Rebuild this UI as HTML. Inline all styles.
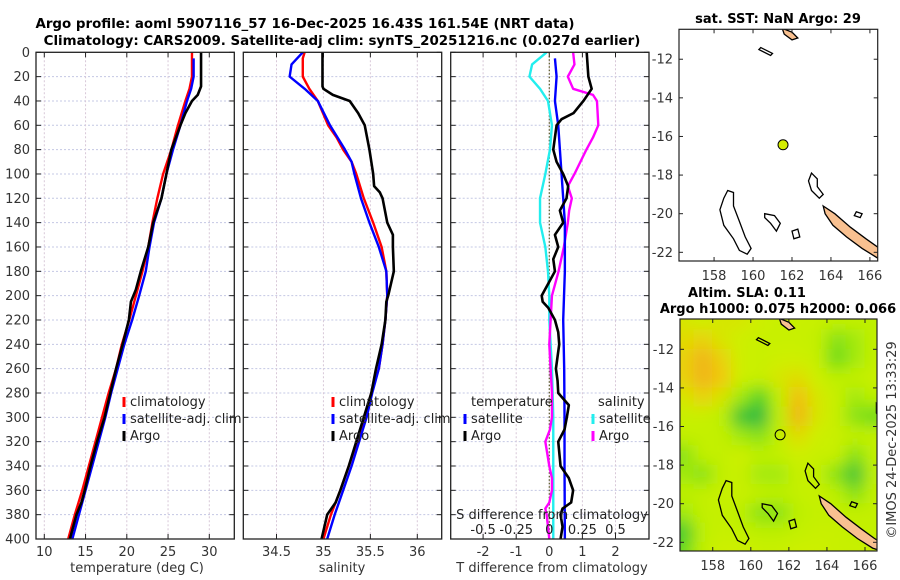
<!DOCTYPE html>
<html><head><meta charset="utf-8"><style>
html,body{margin:0;padding:0;background:#fff;}
svg{display:block;font-family:"DejaVu Sans","Liberation Sans",sans-serif;}
</style></head><body>
<svg id="fig" width="900" height="580" viewBox="0 0 900 580" xmlns="http://www.w3.org/2000/svg">
<defs>
<filter id="blur" x="-10%" y="-10%" width="120%" height="120%"><feGaussianBlur stdDeviation="8"/></filter>
<clipPath id="clipMap2"><rect x="680" y="319" width="197" height="232"/></clipPath>
<clipPath id="clipMap1"><rect x="679" y="29.3" width="198.7" height="231.7"/></clipPath>
<clipPath id="clipP1"><rect x="36" y="52.3" width="198.3" height="486.7"/></clipPath>
<clipPath id="clipP2"><rect x="243.3" y="52.3" width="198.4" height="486.7"/></clipPath>
<clipPath id="clipP3"><rect x="450.7" y="52.3" width="198.3" height="486.7"/></clipPath>
</defs>
<g font-weight="bold" font-size="13.4" text-anchor="middle">
<text x="305" y="28">Argo profile: aoml 5907116_57 16-Dec-2025 16.43S 161.54E (NRT data)</text>
<text x="342" y="45">Climatology: CARS2009. Satellite-adj clim: synTS_20251216.nc (0.027d earlier)</text>
</g>
</svg>
<script>
// ---------- data ----------
const depthTicks=[0,20,40,60,80,100,120,140,160,180,200,220,240,260,280,300,320,340,360,380,400];
const tempTicks=[10,15,20,25,30];
const salTicks=[34.5,35,35.5,36];
const tdiffTicks=[-2,-1,0,1,2];
const sdiffTickLabels=["-0.5","-0.25","0","0.25","0.5"];

const tArgoDepth=[0,28,35,40,50,60,80,100,120,140,160,180,195,205,220,240,260,280,300,320,340,360,370,380,400];
const tArgo=[29.0,29.0,28.6,27.9,27.1,26.5,25.4,24.8,24.2,23.2,22.6,21.7,21.1,20.5,20.25,19.5,18.7,18.0,17.3,16.4,15.6,14.9,14.5,13.9,13.1];
const tClimDepth=[0,10,20,30,40,60,80,100,120,140,160,180,200,220,240,260,280,300,320,340,360,380,400];
const tClim=[27.9,27.9,27.9,27.6,27.1,26.2,25.4,24.4,23.7,23.1,22.6,21.9,21.1,20.3,19.4,18.7,17.8,17.0,16.2,15.4,14.6,13.7,12.9];
const tSatDepth=[5,20,30,40,60,80,100,120,140,160,180,200,220,240,260,280,300,320,340,360,380,400];
const tSat=[28.1,28.1,27.8,27.3,26.5,25.6,24.8,24.2,23.3,22.75,22.3,21.5,20.65,19.7,18.9,18.1,17.4,16.6,15.8,15.0,14.2,13.4];

const sArgoDepth=[0,28,30,35,40,50,60,80,100,110,115,120,140,150,160,180,190,200,205,220,240,260,280,300,320,340,360,370,380,400];
const sArgo=[34.99,34.99,35.0,35.10,35.28,35.37,35.44,35.49,35.53,35.54,35.60,35.63,35.68,35.74,35.74,35.75,35.72,35.69,35.67,35.66,35.62,35.56,35.51,35.43,35.35,35.27,35.18,35.13,35.04,34.98];
const sClimDepth=[0,5,20,30,40,60,70,80,90,100,120,140,160,180,200,220,240,260,280,300,320,340,360,380,400];
const sClim=[34.80,34.78,34.78,34.85,34.94,35.05,35.14,35.21,35.30,35.35,35.43,35.53,35.62,35.67,35.68,35.66,35.63,35.59,35.51,35.44,35.36,35.27,35.18,35.08,35.0];
const sSatDepth=[0,10,20,30,40,60,80,90,100,120,140,160,180,200,220,240,260,280,300,320,340,360,380,400];
const sSat=[34.78,34.66,34.64,34.80,34.94,35.07,35.23,35.30,35.33,35.40,35.49,35.59,35.67,35.68,35.66,35.63,35.59,35.52,35.46,35.38,35.30,35.21,35.12,35.04];

const dtSatDepth=[5,20,40,60,100,140,180,220,260,300,340,400];
const dtSat=[0.17,0.22,0.17,0.27,0.37,0.47,0.47,0.42,0.45,0.46,0.46,0.47];
const dtArgoDepth=[0,20,30,40,50,55,60,70,80,90,100,110,120,130,140,150,160,170,180,190,200,205,210,220,230,240,260,270,280,290,300,310,320,340,350,360,370,375,380,390,400];
const dtArgo=[1.13,1.18,1.28,1.03,0.73,0.37,0.22,0.17,0.12,0.22,0.42,0.57,0.52,0.32,0.42,0.17,0.27,0.12,0.17,-0.03,-0.23,-0.2,-0.03,0.17,0.27,0.3,0.2,0.25,0.27,0.59,0.53,0.46,0.27,0.34,0.59,0.72,0.66,0.4,0.34,0.40,0.34];
const dsSatDepth=[0,10,20,30,40,60,80,100,120,140,160,180,200,220,260,300,340,400];
const dsSat=[-0.02,-0.13,-0.15,-0.07,-0.01,0.02,0.005,-0.03,-0.07,-0.07,-0.03,-0.01,0.0,0.0,0.02,0.03,0.03,0.03];
const dsArgoDepth=[0,10,20,30,35,40,60,70,80,100,110,120,130,140,160,180,200,220,240,260,280,300,310,320,340,350,360,370,375,380,400];
const dsArgo=[0.18,0.19,0.14,0.18,0.33,0.36,0.37,0.33,0.28,0.19,0.14,0.17,0.15,0.14,0.11,0.07,0.02,0.01,0.0,0.01,0.02,0.02,0.005,-0.03,0.0,0.02,0.02,0.0,-0.03,-0.02,0.0];

const lonTicks=[158,160,162,164,166];
const latTicks=[-12,-14,-16,-18,-20,-22];
const argoLon=161.54, argoLat=-16.43;
const slaLons=[156.5,157.5,158.5,159.5,160.5,161.5,162.5,163.5,164.5,165.5,166.5];
const slaLats=[-10.5,-11.5,-12.5,-13.5,-14.5,-15.5,-16.5,-17.5,-18.5,-19.5,-20.5,-21.5,-22.5];
const slaGrid=[
[0.6,0.55,0.6,0.6,0.55,0.5,0.5,0.5,0.45,0.45,0.4],
[0.65,0.7,0.6,0.55,0.5,0.5,0.5,0.45,0.3,0.35,0.45],
[0.7,0.85,0.7,0.55,0.5,0.55,0.55,0.5,0.25,0.35,0.45],
[0.7,0.85,0.75,0.55,0.5,0.6,0.65,0.55,0.4,0.45,0.5],
[0.6,0.7,0.6,0.35,0.2,0.45,0.8,0.6,0.5,0.35,0.4],
[0.5,0.5,0.4,0.1,0.05,0.4,0.85,0.6,0.5,0.3,0.25],
[0.45,0.45,0.45,0.35,0.3,0.45,0.65,0.55,0.5,0.45,0.45],
[0.3,0.45,0.45,0.55,0.4,0.45,0.55,0.5,0.5,0.3,0.45],
[0.35,0.3,0.45,0.5,0.35,0.35,0.5,0.45,0.3,0.1,0.4],
[0.4,0.45,0.5,0.5,0.45,0.4,0.45,0.5,0.4,0.3,0.45],
[0.35,0.45,0.45,0.4,0.3,0.3,0.4,0.45,0.45,0.45,0.45],
[0.15,0.4,0.5,0.45,0.4,0.4,0.45,0.5,0.5,0.45,0.45],
[0.25,0.45,0.55,0.55,0.5,0.5,0.55,0.55,0.5,0.5,0.5]];

// coastlines (lon,lat)
const coastOrange=[
[[163.6,-19.6],[164.2,-20.0],[165.0,-20.7],[165.8,-21.3],[166.5,-21.8],[167,-22.1],[167,-22.5],[166.4,-22.3],[165.6,-21.8],[164.8,-21.2],[164.1,-20.6],[163.7,-20.0]],
[[161.5,-10.4],[162.0,-10.6],[162.3,-10.9],[162.0,-11.0],[161.6,-10.7]],
[[166.6,-14.8],[166.8,-15.0],[166.8,-15.6],[166.6,-15.3]]];
const coastOutline=[
[[158.7,-18.8],[159.0,-18.9],[159.0,-19.6],[159.3,-20.4],[159.6,-21.2],[159.9,-21.8],[159.7,-22.1],[159.3,-21.9],[159.0,-21.3],[158.5,-20.6],[158.3,-19.8],[158.5,-19.2]],
[[163.0,-17.9],[163.3,-18.2],[163.3,-18.6],[163.6,-19.0],[163.4,-19.2],[163.0,-18.8],[162.85,-18.3]],
[[160.6,-20.0],[161.1,-20.1],[161.4,-20.5],[161.2,-20.9],[160.9,-20.5],[160.6,-20.2]],
[[162.0,-20.9],[162.3,-20.8],[162.4,-21.2],[162.1,-21.3]],
[[165.3,-19.9],[165.6,-20.0],[165.5,-20.2],[165.2,-20.1]],
[[160.4,-11.4],[161.0,-11.7],[160.9,-11.8],[160.3,-11.5]]];

// ---------- helpers ----------
const svg=document.getElementById('fig');
const NS='http://www.w3.org/2000/svg';
function mk(tag,attrs,parent){const e=document.createElementNS(NS,tag);for(const k in attrs)e.setAttribute(k,attrs[k]);(parent||svg).appendChild(e);return e;}
const Y0=52.3,Y1=539;
function yD(d){return Y0+(d/400)*(Y1-Y0);}
function scale(d0,d1,r0,r1){return v=>r0+(v-d0)/(d1-d0)*(r1-r0);}
const xT=scale(10,30,44.3,209.3);
const xS=scale(34.5,36,276.5,417.3);
const xDT=scale(0,1,549.3,582.4);
const xDS=scale(0,0.25,549.3,582.4);

function panel(name,x0,x1,xticks,xfun){
  const g=mk('g',{});
  
  
  mk('rect',{x:x0,y:Y0,width:x1-x0,height:Y1-Y0,fill:'#fff'},g);
  depthTicks.forEach(d=>{ if(d>0&&d<400){const l=mk('line',{x1:x0,x2:x1,y1:yD(d),y2:yD(d),stroke:'#c4c8e4','stroke-width':1,'stroke-dasharray':'2,2'},g);
    }
    mk('line',{x1:x0,x2:x0+5,y1:yD(d),y2:yD(d),stroke:'#222'},g);
    mk('line',{x1:x1-5,x2:x1,y1:yD(d),y2:yD(d),stroke:'#222'},g);});
  xticks.forEach(v=>{const X=xfun(v);const l=mk('line',{x1:X,x2:X,y1:Y0,y2:Y1,stroke:'#d8c8d8','stroke-width':1,'stroke-dasharray':'2,2'},g);
    
    mk('line',{x1:X,x2:X,y1:Y1,y2:Y1-5,stroke:'#222'},g);mk('line',{x1:X,x2:X,y1:Y0,y2:Y0+5,stroke:'#222'},g);});
  return g;
}
function series(name,g,clip,depths,vals,xfun,color,w){
  let d='';depths.forEach((dp,i)=>{d+=(i?'L':'M')+xfun(vals[i]).toFixed(2)+','+yD(dp).toFixed(2);});
  const p=mk('path',{d:d,fill:'none',stroke:color,'stroke-width':w,'stroke-linejoin':'round','clip-path':'url(#'+clip+')'},g);
  
  
}
function frame(g,x0,x1){mk('rect',{x:x0,y:Y0,width:x1-x0,height:Y1-Y0,fill:'none',stroke:'#222','stroke-width':1.3},g);}
function txt(s,x,y,attrs,parent){const t=mk('text',Object.assign({x:x,y:y,'font-size':13,fill:'#333'},attrs||{}),parent);t.textContent=s;return t;}
function legendItem(g,name,x,y,color,label){
  const m=mk('line',{x1:x,x2:x,y1:y-9,y2:y+1,stroke:color,'stroke-width':3},g);
  
  const t=txt(label,x+6,y,{fill:'#222'},g);
  
}

// ---------- panel 1 temperature ----------
const g1=panel('temperature-panel',36,234.3,tempTicks,xT);
series('temp-climatology-line',g1,'clipP1',tClimDepth,tClim,xT,'#ff0000',2.4);
series('temp-satellite-line',g1,'clipP1',tSatDepth,tSat,xT,'#0000ff',2.4);
series('temp-argo-line',g1,'clipP1',tArgoDepth,tArgo,xT,'#000',2.6);
frame(g1,36,234.3);
depthTicks.forEach(d=>{const t=txt(String(d),30,yD(d)+4.5,{'text-anchor':'end'},g1);});
tempTicks.forEach(v=>{const t=txt(String(v),xT(v),556,{'text-anchor':'middle'},g1);});
(function(){const t=txt('temperature (deg C)',137,572,{'text-anchor':'middle'},g1);})();
legendItem(g1,'legend-climatology',124,406,'#ff0000','climatology');
legendItem(g1,'legend-satellite-adj',124,423,'#0000ff','satellite-adj. clim');
legendItem(g1,'legend-argo',124,440,'#000','Argo');

// ---------- panel 2 salinity ----------
const g2=panel('salinity-panel',243.3,441.7,salTicks,xS);
series('sal-climatology-line',g2,'clipP2',sClimDepth,sClim,xS,'#ff0000',2.4);
series('sal-satellite-line',g2,'clipP2',sSatDepth,sSat,xS,'#0000ff',2.4);
series('sal-argo-line',g2,'clipP2',sArgoDepth,sArgo,xS,'#000',2.6);
frame(g2,243.3,441.7);
salTicks.forEach(v=>{const t=txt(String(v),xS(v),556,{'text-anchor':'middle'},g2);});
(function(){const t=txt('salinity',342,572,{'text-anchor':'middle'},g2);})();
legendItem(g2,'legend-climatology',333,406,'#ff0000','climatology');
legendItem(g2,'legend-satellite-adj',333,423,'#0000ff','satellite-adj. clim');
legendItem(g2,'legend-argo',333,440,'#000','Argo');

// ---------- panel 3 differences ----------
const g3=panel('difference-panel',450.7,649,tdiffTicks,xDT);
(function(){const l=mk('line',{x1:xDT(0),x2:xDT(0),y1:Y0,y2:Y1,stroke:'#555522','stroke-width':1.2,'stroke-dasharray':'1.5,2'},g3);})();
series('sdiff-satellite-line',g3,'clipP3',dsSatDepth,dsSat,xDS,'#22eeee',2.4);
series('sdiff-argo-line',g3,'clipP3',dsArgoDepth,dsArgo,xDS,'#ff00ff',2.4);
series('tdiff-satellite-line',g3,'clipP3',dtSatDepth,dtSat,xDT,'#0000ff',2.4);
series('tdiff-argo-line',g3,'clipP3',dtArgoDepth,dtArgo,xDT,'#000',2.6);
frame(g3,450.7,649);
tdiffTicks.forEach(v=>{const t=txt(String(v),xDT(v),556,{'text-anchor':'middle'},g3);});
sdiffTickLabels.forEach((s,i)=>{const t=txt(s,xDT(tdiffTicks[i]),534,{'text-anchor':'middle',fill:'#222'},g3);});
(function(){let t=txt('S difference from climatology',552,519,{'text-anchor':'middle',fill:'#222'},g3);
 t=txt('T difference from climatology',552,572,{'text-anchor':'middle'},g3);
 t=txt('temperature',471,406,{fill:'#222'},g3);
 t=txt('salinity',598,406,{fill:'#222'},g3);})();
legendItem(g3,'legend-t-satellite',465,423,'#0000ff','satellite');
legendItem(g3,'legend-t-argo',465,440,'#000','Argo');
legendItem(g3,'legend-s-satellite',593,423,'#22eeee','satellite');
legendItem(g3,'legend-s-argo',593,440,'#ff00ff','Argo');

// ---------- maps ----------
function mapPanel(name,box,lon0,lon1,lat0,lat1,lonTickY,clip,heat){
  const g=mk('g',{});
  
  
  const px=scale(lon0,lon1,box.x,box.x+box.w), py=scale(lat0,lat1,box.y,box.y+box.h);
  mk('rect',{x:box.x,y:box.y,width:box.w,height:box.h,fill:'#fff'},g);
  if(heat){
    const hg=mk('g',{'clip-path':'url(#'+clip+')'},g);
    mk('rect',{x:box.x,y:box.y,width:box.w,height:box.h,fill:'#c6f000'},hg);
    const bg=mk('g',{filter:'url(#blur)'},hg);
    const stops=[[0,[20,175,70]],[0.2,[80,210,40]],[0.4,[190,240,0]],[0.55,[205,240,0]],[0.75,[242,200,10]],[1,[240,150,40]]];
    function col(v){for(let i=1;i<stops.length;i++){if(v<=stops[i][0]){const a=stops[i-1],b=stops[i];const f=(v-a[0])/(b[0]-a[0]);return 'rgb('+a[1].map((c,k)=>Math.round(c+(b[1][k]-c)*f)).join(',')+')';}}return 'rgb(240,150,40)';}
    slaLats.forEach((la,r)=>slaLons.forEach((lo,c)=>{
      const x0=px(lo-0.5),x1=px(lo+0.5),y0=py(la+0.5),y1=py(la-0.5);
      const ex=(c===0?-20:0), ew=(c===0||c===slaLons.length-1?20:0), ey=(r===0?-20:0), eh=(r===0||r===slaLats.length-1?20:0);
      const cell=mk('rect',{x:Math.min(x0,x1)-0.5+ex,y:Math.min(y0,y1)-0.5+ey,width:Math.abs(x1-x0)+1+ew,height:Math.abs(y1-y0)+1+eh,fill:col(slaGrid[r][c])},bg);
      
      
    }));
  }
  const cg=mk('g',{'clip-path':'url(#'+clip+')'},g);
  coastOrange.forEach(poly=>{const p=mk('polygon',{points:poly.map(q=>px(q[0]).toFixed(1)+','+py(q[1]).toFixed(1)).join(' '),fill:'#f8c090',stroke:'#000','stroke-width':1.3},cg);
    });
  coastOutline.forEach(poly=>{const p=mk('polygon',{points:poly.map(q=>px(q[0]).toFixed(1)+','+py(q[1]).toFixed(1)).join(' '),fill:'none',stroke:'#000','stroke-width':1.3},cg);
    });
  const dot=mk('circle',{cx:px(argoLon),cy:py(argoLat),r:5,fill:heat?'none':'#d4ee00',stroke:'#000','stroke-width':1},g);
  
  
  mk('rect',{x:box.x,y:box.y,width:box.w,height:box.h,fill:'none',stroke:'#222','stroke-width':1.2},g);
  lonTicks.forEach(v=>{const X=px(v);mk('line',{x1:X,x2:X,y1:box.y+box.h,y2:box.y+box.h-4,stroke:'#222'},g);mk('line',{x1:X,x2:X,y1:box.y,y2:box.y+4,stroke:'#222'},g);
    const t=txt(String(v),X,lonTickY,{'text-anchor':'middle'},g);});
  latTicks.forEach(v=>{const Y=py(v);mk('line',{x1:box.x,x2:box.x+4,y1:Y,y2:Y,stroke:'#222'},g);mk('line',{x1:box.x+box.w,x2:box.x+box.w-4,y1:Y,y2:Y,stroke:'#222'},g);
    const t=txt(String(v),box.x-6,Y+4.5,{'text-anchor':'end'},g);});
  return g;
}
const m1=mapPanel('sst-map',{x:679,y:29.3,w:198.7,h:231.7},156.2,166.4,-10.45,-22.45,280,'clipMap1',false);
(function(){const t=txt('sat. SST: NaN Argo: 29',778,23,{'text-anchor':'middle','font-weight':'bold',fill:'#000'},m1);})();
const m2=mapPanel('sla-map',{x:680,y:319,w:197,h:232},156.28,166.63,-10.43,-22.45,570,'clipMap2',true);
(function(){let t=txt('Altim. SLA: 0.11',747,297,{'text-anchor':'middle','font-weight':'bold',fill:'#000'},m2);
 t=txt('Argo h1000: 0.075 h2000: 0.066',778,313,{'text-anchor':'middle','font-weight':'bold',fill:'#000'},m2);
 t=txt('©IMOS 24-Dec-2025 13:33:29',0,0,{'text-anchor':'middle',transform:'translate(896,440) rotate(-90)'},svg);})();
</script>
</body></html>
